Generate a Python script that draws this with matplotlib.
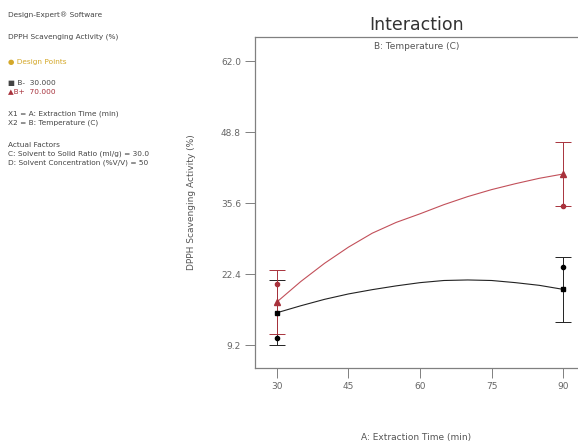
import numpy as np
import matplotlib
matplotlib.use('Agg')
import matplotlib.pyplot as plt

# model prediction curves, A: Extraction Time (min)
time_grid = [30, 35, 40, 45, 50, 55, 60, 65, 70, 75, 80, 85, 90]
pred_low_B = [15.2, 16.5, 17.7, 18.7, 19.5, 20.2, 20.8, 21.2, 21.3, 21.2, 20.8, 20.3, 19.55]
pred_high_B = [17.2, 21.0, 24.4, 27.4, 30.0, 32.0, 33.6, 35.3, 36.8, 38.1, 39.2, 40.2, 41.0]

# end points with LSD bars
bar_time = [30, 90]
bar_low_B = [15.2, 19.55]
bar_high_B = [17.2, 41.0]
lsd_half = 6.0

# design points
dp_time_low = [30, 90]
dp_low_B = [10.5, 23.75]
dp_time_high = [30, 90]
dp_high_B = [20.5, 35.0]

xticks = [30, 45, 60, 75, 90]
yticks = [9.2, 22.4, 35.6, 48.8, 62.0]

red = '#a8323c'
grey = '#808080'

plt.rcParams['font.family'] = 'DejaVu Sans'
fig = plt.figure(figsize=(5.78, 4.41), dpi=100)
ax = fig.add_axes([0.441, 0.1655, 0.559, 0.7505])

ax.plot(time_grid, pred_low_B, color='#222222', lw=0.8)
ax.plot(time_grid, pred_high_B, color='#c2505a', lw=0.8)

ax.errorbar(bar_time, bar_low_B, yerr=lsd_half, fmt='s', color='black', ms=3.5,
            ecolor='#222222', elinewidth=0.7, capsize=5.5, capthick=0.7)
ax.errorbar(bar_time, bar_high_B, yerr=lsd_half, fmt='^', color=red, ms=4.5,
            ecolor=red, elinewidth=0.7, capsize=5.5, capthick=0.7)
ax.plot(dp_time_low, dp_low_B, 'o', color='black', ms=3)
ax.plot(dp_time_high, dp_high_B, 'o', color=red, ms=3)

ax.set_xlim(25.4, 93.1)
ax.set_ylim(4.93, 66.46)
ax.set_xticks(xticks)
ax.set_xticklabels([str(t) for t in xticks])
ax.set_yticks(yticks)
ax.set_yticklabels(['%.1f' % v for v in yticks])
ax.tick_params(direction='out', length=7, width=0.7, color=grey,
               labelsize=6.5, labelcolor='#666666', pad=3)
for side in ['left', 'bottom', 'top']:
    ax.spines[side].set_color(grey)
    ax.spines[side].set_linewidth(0.9)
ax.spines['right'].set_visible(False)

ax.set_title('Interaction', fontsize=12.5, color='#333333', pad=5)
ax.text(0.5, 0.985, 'B: Temperature (C)', transform=ax.transAxes,
        ha='center', va='top', fontsize=6.5, color='#555555')
ax.set_ylabel('DPPH Scavenging Activity (%)', fontsize=6.5, color='#555555', labelpad=18)
ax.set_xlabel('A: Extraction Time (min)', fontsize=6.5, color='#555555', labelpad=30)

# side panel text
fs = 5.3
tc = '#444444'
def side(y, s, c=tc):
    fig.text(8 / 578, 1 - y / 441, s, fontsize=fs, color=c, va='center', ha='left')

side(15, 'Design-Expert\u00ae Software')
side(37, 'DPPH Scavenging Activity (%)')
side(62, '\u25cf Design Points', c='#d4a82a')
side(83, '\u25a0 B-  30.000')
side(91, '\u25b2B+  70.000', c=red)
side(114, 'X1 = A: Extraction Time (min)')
side(123, 'X2 = B: Temperature (C)')
side(145, 'Actual Factors')
side(154, 'C: Solvent to Solid Ratio (ml/g) = 30.0')
side(163, 'D: Solvent Concentration (%V/V) = 50')

fig.savefig('out.png', dpi=100)
